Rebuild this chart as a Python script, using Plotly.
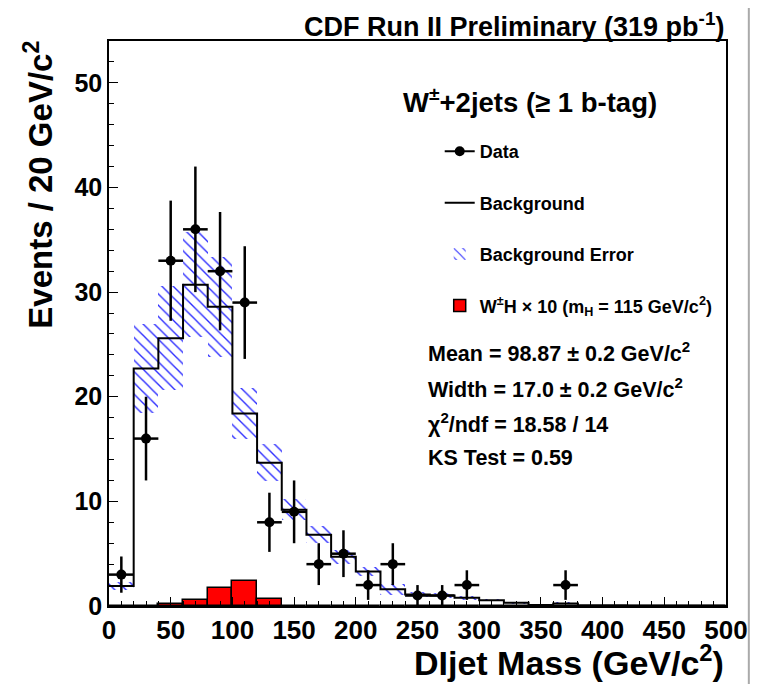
import numpy as np
import plotly.graph_objects as go

# binning: 20 GeV/c^2 bins from 0 to 500
bin_edges = list(range(0, 520, 20))

background = [1.9, 22.7, 25.6, 30.7, 28.6, 18.4, 13.7, 9.2, 6.8, 4.7, 3.3, 1.6,
              1.1, 1.0, 0.8, 0.55, 0.3, 0.1, 0.25, 0.05, 0.05, 0.03, 0.03, 0.02, 0.02]
background_err = [0.4, 4.3, 5.0, 5.0, 4.8, 2.4, 1.75, 1.0, 0.8, 0.7, 0.4, 0.55,
                  0.25, 0.2, 0.2, 0.1, 0.1, 0.05, 0.05, 0.02, 0.02, 0.01, 0.01, 0.01, 0.01]
signal_x10 = [0, 0.03, 0.15, 0.55, 1.7, 2.4, 0.7, 0, 0, 0, 0, 0,
              0, 0, 0, 0, 0, 0, 0, 0, 0, 0, 0, 0, 0]
data_counts = [3, 16, 33, 36, 32, 29, 8, 9, 4, 5, 2, 4,
               1, 1, 2, 0, 0, 0, 2, 0, 0, 0, 0, 0, 0]

edges = np.array(bin_edges, dtype=float)
centers = (edges[:-1] + edges[1:]) / 2
bkg = np.array(background)
bkg_err = np.array(background_err)

FONT = "Liberation Sans, Arial, sans-serif"

fig = go.Figure()

# background error band (hatched)
fig.add_trace(go.Bar(
    x=centers, y=2 * bkg_err, base=bkg - bkg_err, width=20,
    marker=dict(color="#2a2aff", line=dict(width=0),
                pattern=dict(shape="\\", size=8, solidity=0.17, fillmode="replace")),
    name="Background Error", legendgroup="c", legendrank=3,
))

# signal W H x 10
fig.add_trace(go.Bar(
    x=centers, y=signal_x10, width=20,
    marker=dict(color="red", line=dict(color="black", width=1.5)),
    name="W<sup>±</sup>H × 10 (m<sub>H</sub> = 115 GeV/c<sup>2</sup>)",
    legendgroup="d", legendrank=4,
))

# background step histogram
fig.add_trace(go.Scatter(
    x=edges, y=np.append(bkg, bkg[-1]), mode="lines", line_shape="hv",
    line=dict(color="black", width=2),
    name="Background", legendgroup="b", legendrank=2,
))

# data points, separated by gaps so no line connects them (line only shows in legend)
dx, dy, de = [], [], []
for c, n in zip(centers, data_counts):
    if n > 0:
        dx += [c, None]
        dy += [n, None]
        de += [np.sqrt(n), 0]
fig.add_trace(go.Scatter(
    x=dx, y=dy, mode="lines+markers", connectgaps=False,
    marker=dict(color="black", size=10),
    line=dict(color="black", width=2),
    error_y=dict(type="data", array=de, color="black", thickness=2.5, width=0),
    error_x=dict(type="constant", value=10, color="black", thickness=2.5, width=0),
    name="Data", legendgroup="a", legendrank=1,
))

# page body has an 8px margin, so the figure is 8px smaller than the window
fig.update_layout(
    width=752, height=676,
    margin=dict(l=101, r=31, t=33, b=78),
    plot_bgcolor="white", paper_bgcolor="white",
    barmode="overlay", bargap=0,
    font=dict(family=FONT, color="black"),
    legend=dict(
        x=0.536, y=0.837, xanchor="left", yanchor="top",
        bgcolor="rgba(0,0,0,0)", traceorder="grouped", tracegroupgap=25,
        font=dict(family=FONT, size=18, weight="bold"),
    ),
    showlegend=True,
)

fig.update_xaxes(
    range=[0, 500], showgrid=False, zeroline=False,
    showline=True, linecolor="black", linewidth=1.5, mirror=True,
    ticks="inside", ticklen=9, tickcolor="black", dtick=50, tick0=0,
    minor=dict(ticks="inside", ticklen=5, dtick=10, tickcolor="black"),
    tickfont=dict(family=FONT, size=26, weight="bold"),
)
fig.update_yaxes(
    range=[0, 54], showgrid=False, zeroline=False,
    showline=True, linecolor="black", linewidth=1.5, mirror=True,
    ticks="inside", ticklen=9, tickcolor="black", dtick=10, tick0=0,
    minor=dict(ticks="inside", ticklen=5, dtick=2, tickcolor="black"),
    tickfont=dict(family=FONT, size=25, weight="bold"),
)

annotations = [
    dict(text="CDF Run II Preliminary (319 pb<sup>-1</sup>)", x=1.0, y=1.0,
         xanchor="right", yanchor="bottom", yshift=-3,
         font=dict(size=27, weight="bold")),
    dict(text="Events / 20 GeV/c<sup>2</sup>", x=-0.114, y=0.745, textangle=-90,
         xanchor="center", yanchor="middle",
         font=dict(size=33, weight="bold")),
    dict(text="DIjet Mass (GeV/c<sup>2</sup>)", x=1.0, y=0, xanchor="right",
         yanchor="top", yshift=-31,
         font=dict(size=34, weight="bold")),
    dict(text="W<sup>±</sup>+2jets (≥ 1 b-tag)", x=0.474, y=0.895,
         xanchor="left", yanchor="middle",
         font=dict(size=27.5, weight="bold")),
]
stats = ["Mean = 98.87 ± 0.2 GeV/c<sup>2</sup>",
         "Width = 17.0 ± 0.2 GeV/c<sup>2</sup>",
         "χ<sup>2</sup>/ndf = 18.58 / 14",
         "KS Test = 0.59"]
for i, s in enumerate(stats):
    annotations.append(dict(text=s, x=0.514, y=0.449 - i * 0.0625,
                            xanchor="left", yanchor="middle",
                            font=dict(size=21.5, weight="bold")))
for a in annotations:
    a.update(xref="paper", yref="paper", showarrow=False)
fig.update_layout(annotations=annotations)

# page border line on the right
fig.add_shape(type="line", xref="paper", yref="paper", x0=1.037, x1=1.037,
              y0=-0.14, y1=1.08, line=dict(color="#aaaaaa", width=2))

fig.write_html("out.html")
